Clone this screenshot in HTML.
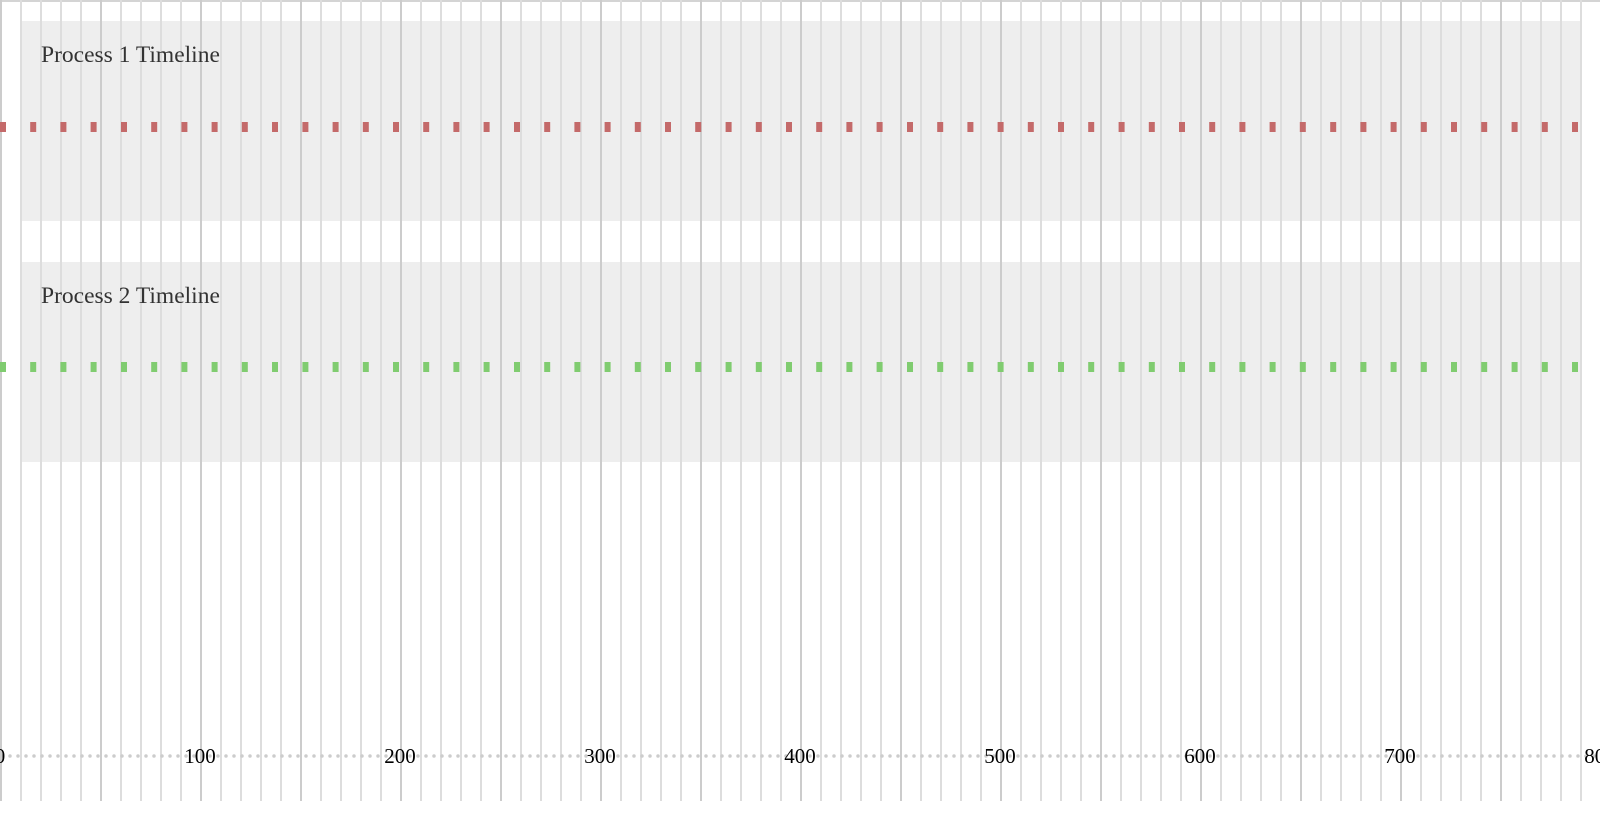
<!DOCTYPE html>
<html><head><meta charset="utf-8"><style>
html,body{margin:0;padding:0;background:#fff;}
svg{display:block;font-family:"Liberation Serif",serif;}
</style></head><body>
<svg id="chart" width="1616" height="820" viewBox="0 0 1616 820">
<defs><clipPath id="clip"><rect x="0" y="0" width="1600" height="820"/></clipPath></defs>
<g id="root" clip-path="url(#clip)"></g>
</svg>
<script>
const gridTicks = [0,10,20,30,40,50,60,70,80,90,100,110,120,130,140,150,160,170,180,190,200,210,220,230,240,250,260,270,280,290,300,310,320,330,340,350,360,370,380,390,400,410,420,430,440,450,460,470,480,490,500,510,520,530,540,550,560,570,580,590,600,610,620,630,640,650,660,670,680,690,700,710,720,730,740,750,760,770,780,790];
const axisLabels = [0,100,200,300,400,500,600,700,800];
const processNames = ["Process 1 Timeline","Process 2 Timeline"];
const process1Times = [0,15.1,30.2,45.3,60.5,75.6,90.7,105.8,120.9,136,151.2,166.3,181.4,196.5,211.6,226.7,241.8,257,272.1,287.2,302.3,317.4,332.5,347.6,362.8,377.9,393,408.1,423.2,438.3,453.5,468.6,483.7,498.8,513.9,529,544.1,559.3,574.4,589.5,604.6,619.7,634.8,649.9,665.1,680.2,695.3,710.4,725.5,740.6,755.8,770.9,786];
const process2Times = [0,15.1,30.2,45.3,60.5,75.6,90.7,105.8,120.9,136,151.2,166.3,181.4,196.5,211.6,226.7,241.8,257,272.1,287.2,302.3,317.4,332.5,347.6,362.8,377.9,393,408.1,423.2,438.3,453.5,468.6,483.7,498.8,513.9,529,544.1,559.3,574.4,589.5,604.6,619.7,634.8,649.9,665.1,680.2,695.3,710.4,725.5,740.6,755.8,770.9,786];
const xScale = t => t * 2;
const NS = "http://www.w3.org/2000/svg";
const root = document.getElementById('root');
function mk(tag, attrs, parent){const e=document.createElementNS(NS,tag);for(const k in attrs)e.setAttribute(k,attrs[k]);(parent||root).appendChild(e);return e;}

const tb = mk('rect',{x:0,y:0,width:1600,height:2,fill:'#d4d4d4'});



const bandY = [21, 262];
processNames.forEach((n,i)=>{
  const b = mk('rect',{x:21,y:bandY[i],width:1560,height:200,fill:'#eeeeee'});
  
  
});

gridTicks.forEach(t=>{
  const major = t % 50 === 0;
  const l = mk('line',{x1:xScale(t)+1,x2:xScale(t)+1,y1:0,y2:801,stroke:major?'#cccccc':'#dddddd','stroke-width':2});
  
  
});

processNames.forEach((n,i)=>{
  const tx = mk('text',{x:41,y:bandY[i]+41,'font-size':23.5,fill:'#333'});
  tx.textContent = n;
  
  
});

const series = [[process1Times,'#c46a6a',122],[process2Times,'#80cc70',362]];
series.forEach((s,si)=>{
  s[0].forEach(t=>{
    const r = mk('rect',{x:xScale(t),y:s[2],width:6,height:10,fill:s[1]});
    
    
  });
});

const ax = mk('line',{x1:2,x2:1600,y1:756,y2:756,stroke:'#cccccc','stroke-width':3.5,'stroke-dasharray':'0 8','stroke-linecap':'round'});


axisLabels.forEach(v=>{
  const tx = mk('text',{x:xScale(v),y:763,'font-size':21,fill:'#000','text-anchor':'middle'});
  tx.textContent = v;
  
  
});
</script>
</body></html>
